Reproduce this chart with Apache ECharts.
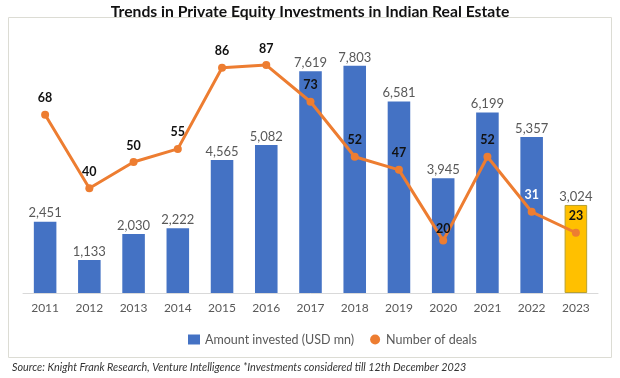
<!DOCTYPE html>
<html>
<head>
<meta charset="utf-8">
<script src="https://cdn.jsdelivr.net/npm/echarts@6/dist/echarts.min.js"></script>
<style>html,body{margin:0;padding:0;background:#fff}#c{width:620px;height:378px}</style>
</head>
<body>
<div id="c"></div>
<script>
const years = ['2011','2012','2013','2014','2015','2016','2017','2018','2019','2020','2021','2022','2023'];
const amountInvested = [2451, 1133, 2030, 2222, 4565, 5082, 7619, 7803, 6581, 3945, 6199, 5357, 3024];
const numberOfDeals = [68, 40, 50, 55, 86, 87, 73, 52, 47, 20, 52, 31, 23];
const titleText = 'Trends in Private Equity Investments in Indian Real Estate';
const sourceText = 'Source: Knight Frank Research, Venture Intelligence *Investments considered till 12th December 2023';

const FONT = 'Lato, "Open Sans", sans-serif';
const chart = echarts.init(document.getElementById('c'), null, {renderer: 'canvas'});

const barData = amountInvested.map((v, i) => i === amountInvested.length - 1
  ? {value: v, itemStyle: {color: '#FFC000', borderColor: '#B8A030', borderWidth: 1}}
  : v);
const lineData = numberOfDeals.map((v, i) => {
  const item = {value: v};
  if (i === 11) item.label = {color: '#ffffff'};
  if (i === 9) item.label = {distance: 1};
  return item;
});

chart.setOption({
  animation: false,
  textStyle: {fontFamily: FONT},
  title: {
    text: titleText, left: 'center', top: -1,
    textStyle: {fontFamily: FONT, fontSize: 15.7, fontWeight: 'bold', color: '#111'}
  },
  graphic: [
    {type: 'rect', shape: {x: 8.5, y: 17.5, width: 603, height: 340},
     style: {fill: 'none', stroke: '#dcdcd4', lineWidth: 1}, z: -1},
    {type: 'text', left: 12, top: 362,
     style: {text: sourceText, font: 'italic 10.8px ' + FONT, fill: '#333'}}
  ],
  legend: {
    left: 183, top: 328, itemGap: 16,
    textStyle: {fontFamily: FONT, fontSize: 12.5, color: '#595959'},
    data: [
      {name: 'Amount invested (USD mn)', icon: 'rect', itemStyle: {color: '#4472C4'}},
      {name: 'Number of deals', icon: 'circle', itemStyle: {color: '#ED7D31'}}
    ],
    itemWidth: 12, itemHeight: 10
  },
  grid: {left: 23, right: 22, top: 31, bottom: 85},
  xAxis: {
    type: 'category', data: years,
    axisLine: {lineStyle: {color: '#d9d9d9'}},
    axisTick: {show: false},
    axisLabel: {color: '#595959', fontSize: 12, margin: 9, fontFamily: FONT}
  },
  yAxis: [
    {type: 'value', min: 0, max: 9000, show: false, splitLine: {show: false}},
    {type: 'value', min: 0, max: 100, show: false, splitLine: {show: false}}
  ],
  series: [
    {
      name: 'Amount invested (USD mn)', type: 'bar', yAxisIndex: 0,
      data: barData, barWidth: '51%',
      itemStyle: {color: '#4472C4'},
      label: {show: true, position: 'top', distance: 2, color: '#595959', fontSize: 13,
        fontFamily: FONT, formatter: p => p.value.toLocaleString('en-US')}
    },
    {
      name: 'Number of deals', type: 'line', yAxisIndex: 1,
      data: lineData, symbol: 'circle', symbolSize: 8,
      lineStyle: {color: '#ED7D31', width: 3},
      itemStyle: {color: '#ED7D31'},
      label: {show: true, position: 'top', distance: 6, color: '#111', fontSize: 12.5,
        fontWeight: 'bold', fontFamily: FONT}
    }
  ]
});
</script>
</body>
</html>
